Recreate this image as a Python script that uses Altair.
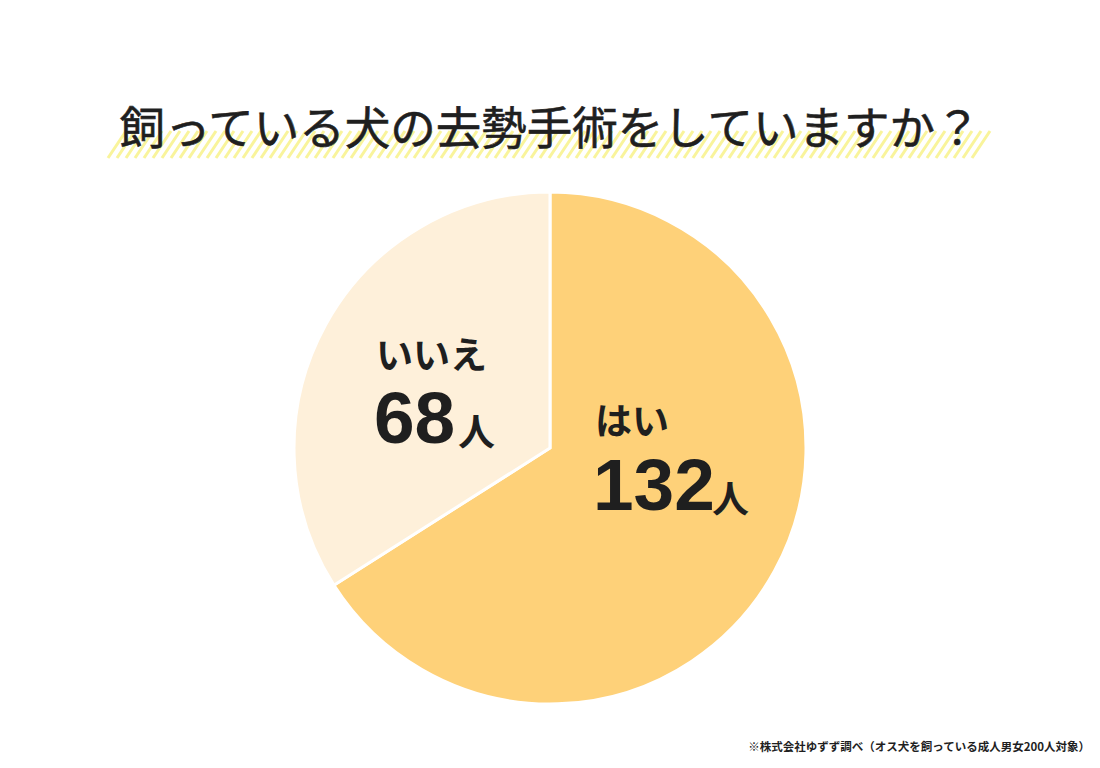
import altair as alt
import pandas as pd

title_text = "飼っている犬の去勢手術をしていますか？"
footnote_text = "※株式会社ゆずず調べ（オス犬を飼っている成人男女200人対象）"
categories = ["はい", "いいえ"]
counts = [132, 68]
slice_colors = ["#FED179", "#FEF0DA"]
unit = "人"

df = pd.DataFrame({"category": categories, "count": counts, "order": [0, 1]})

W, H = 1084, 752
CX, CY, R = 542, 440, 256
JP = "Noto Sans CJK JP"
NUM = "Liberation Sans"
INK = "#1f1f1f"

# decorative striped highlight under the title
stripe_df = pd.DataFrame({"s": list(range(100, 972, 9))})
stripes = alt.Chart(stripe_df).transform_calculate(
    x2="datum.s + 18"
).mark_rule(color="#F7F07A", strokeWidth=3, opacity=0.75).encode(
    x=alt.X("s:Q", scale=None),
    x2="x2:Q",
    y=alt.value(150),
    y2=alt.value(123),
)

one = pd.DataFrame({"t": [0]})
title = alt.Chart(one).mark_text(
    font=JP, fontSize=45.5, fontWeight=400, color=INK, align="center", baseline="middle",
    stroke=INK, strokeWidth=0.6
).encode(x=alt.value(542), y=alt.value(123), text=alt.value(title_text))

pie = alt.Chart(df).mark_arc(radius=R, stroke="white", strokeWidth=3).encode(
    theta=alt.Theta("count:Q", stack=True),
    color=alt.Color("category:N", scale=alt.Scale(domain=categories, range=slice_colors), legend=None),
    order=alt.Order("order:Q"),
    x=alt.value(CX),
    y=alt.value(CY),
)

def label(cat, x, name_y, num_y, unit_x):
    base = alt.Chart(df).transform_filter(alt.datum.category == cat)
    name = base.mark_text(font=JP, fontSize=37, fontWeight="bold", color=INK,
                          align="left", baseline="middle").encode(
        x=alt.value(x - 2), y=alt.value(name_y), text="category:N")
    num = base.mark_text(font=NUM, fontSize=73, fontWeight="bold", color=INK,
                         align="left", baseline="alphabetic").encode(
        x=alt.value(x - 4), y=alt.value(num_y), text="count:Q")
    u = base.mark_text(font=JP, fontSize=37, fontWeight="bold", color=INK,
                       align="left", baseline="alphabetic").encode(
        x=alt.value(unit_x), y=alt.value(num_y + 3), text=alt.value(unit))
    return name + num + u

lab_yes = label("はい", 589, 416, 502, 704)
lab_no = label("いいえ", 370, 350, 435, 450)

foot = alt.Chart(one).mark_text(
    font=JP, fontSize=11.5, fontWeight="bold", color=INK, align="right", baseline="middle"
).encode(x=alt.value(1082), y=alt.value(740), text=alt.value(footnote_text))

chart = alt.layer(stripes, title, pie, lab_yes, lab_no, foot).properties(
    width=W, height=H,
    autosize=alt.AutoSizeParams(type="fit", contains="padding"),
    padding=0,
    background="white",
).configure_view(stroke=None)

chart.save("out.html", embed_options={"renderer": "svg", "actions": False})
